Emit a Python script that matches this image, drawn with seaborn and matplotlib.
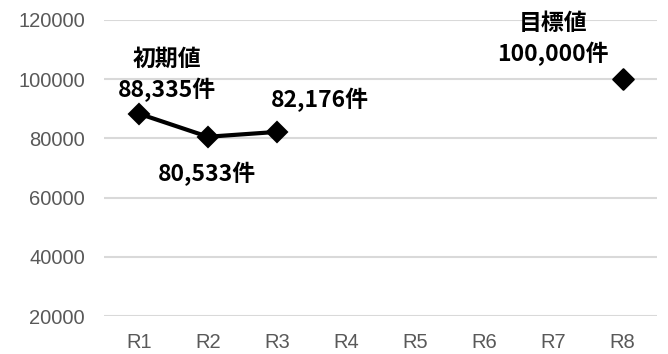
import matplotlib
matplotlib.use("Agg")
import matplotlib.pyplot as plt
import seaborn as sns
import pandas as pd
import numpy as np

rounds = ['R1', 'R2', 'R3', 'R4', 'R5', 'R6', 'R7', 'R8']
actual = [88335, 80533, 82176, np.nan, np.nan, np.nan, np.nan, np.nan]
target = [np.nan, np.nan, np.nan, np.nan, np.nan, np.nan, np.nan, 100000]
labels = {0: '初期値\n88,335件', 1: '80,533件', 2: '82,176件', 7: '目標値\n100,000件'}

df = pd.DataFrame({'round': rounds, 'actual': actual, 'target': target})

sns.set_theme(style="white")
plt.rcParams['font.family'] = ['Liberation Sans', 'DejaVu Sans']

fig, ax = plt.subplots(figsize=(6.68, 3.54), dpi=100)
fig.subplots_adjust(left=0.156, right=0.984, top=0.944, bottom=0.107)

sns.lineplot(data=df, x='round', y='actual', ax=ax, color='black', linewidth=3,
             marker='D', markersize=10, markeredgewidth=1.5, markeredgecolor='black')
sns.scatterplot(data=df, x='round', y='target', ax=ax, color='black', marker='D',
                s=110, edgecolor='black', linewidth=1.5, zorder=3)

ax.set_ylim(20000, 120000)
ax.set_yticks(range(20000, 120001, 20000))
ax.set_xlim(-0.5, 7.5)
ax.yaxis.grid(True, color='#d9d9d9', linewidth=1.5)
ax.set_axisbelow(True)
for s in ax.spines.values():
    s.set_visible(False)
ax.set_xlabel('')
ax.set_ylabel('')
ax.tick_params(axis='y', length=0, labelsize=14.5, labelcolor='#595959', pad=14)
ax.tick_params(axis='x', length=0, labelsize=14.5, labelcolor='#595959', pad=12)

# data label offsets in points
offsets = {0: (20, 28), 1: (-1, -27), 2: (31, 23), 7: (-50, 29)}
vals = [a if not np.isnan(a) else t for a, t in zip(actual, target)]
for i, txt in labels.items():
    ax.annotate(txt, xy=(i, vals[i]), xytext=offsets[i], textcoords='offset points',
                ha='center', va='center', fontsize=16.5, fontweight='bold', color='black',
                family=['Noto Sans CJK JP', 'DejaVu Sans'], linespacing=1.35)

plt.savefig('out.png', dpi=100)
plt.close()
